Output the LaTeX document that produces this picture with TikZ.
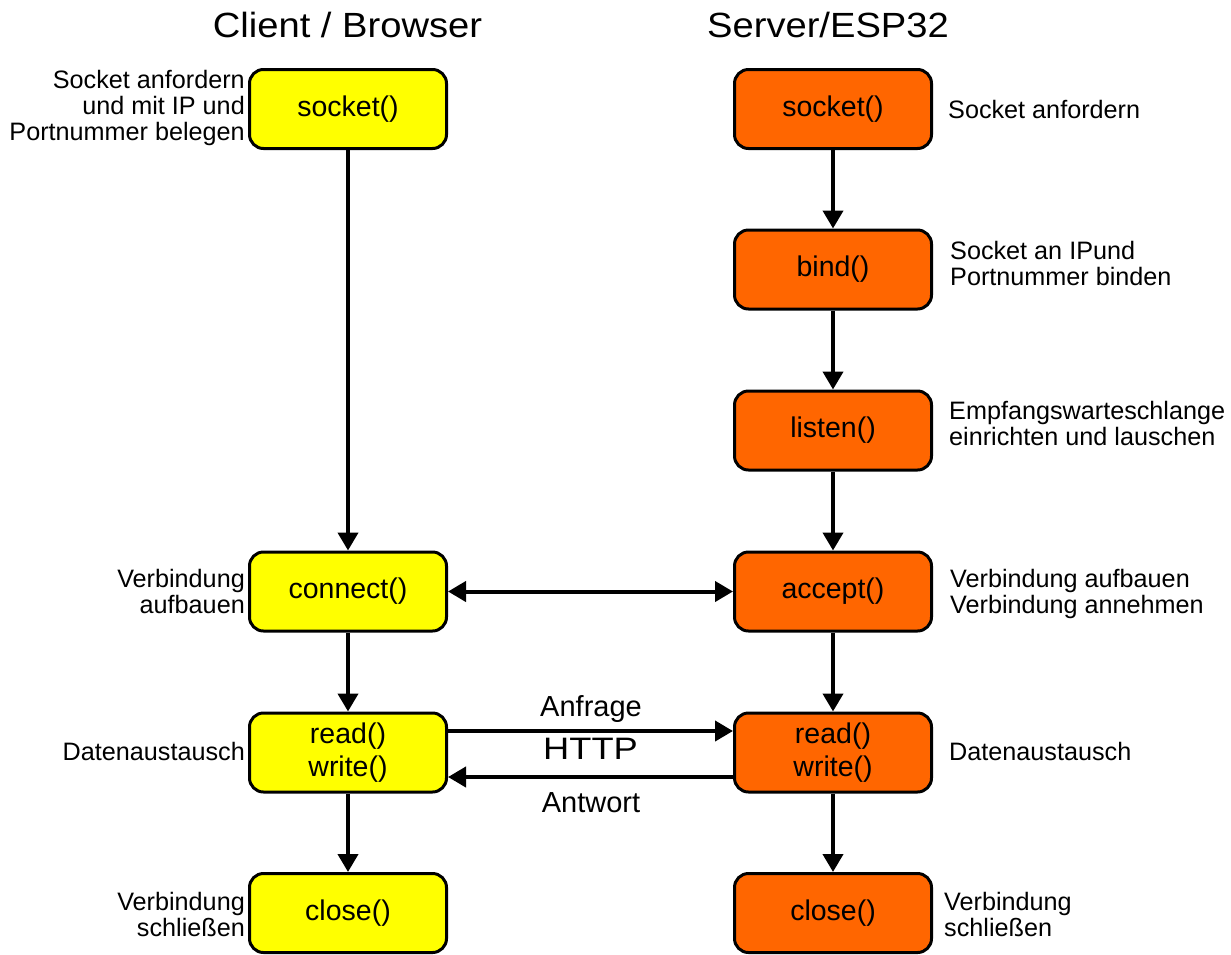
\documentclass[tikz,border=0pt]{standalone}
\usepackage{fontspec}
\setmainfont{Liberation Sans}
\usetikzlibrary{arrows.meta}
\definecolor{boxyellow}{RGB}{255,255,0}
\definecolor{boxorange}{RGB}{255,102,0}
\begin{document}
\begin{tikzpicture}[x=1pt,y=-1pt,
  fn/.style={draw=black, line width=3pt, rounded corners=14pt, minimum width=197pt, minimum height=79pt, inner sep=0pt, align=center, font=\fontsize{28.5}{33}\selectfont},
  cl/.style={fn, fill=boxyellow},
  sv/.style={fn, fill=boxorange},
  note/.style={inner sep=0pt, font=\fontsize{25.2}{26}\selectfont},
  lnote/.style={note, align=right, anchor=base east},
  rnote/.style={note, align=left, anchor=base west},
  flow/.style={line width=4pt, -{Triangle[length=18pt,width=20pt]}},
  both/.style={line width=4pt, {Triangle[length=18pt,width=20pt]}-{Triangle[length=18pt,width=20pt]}},
  msg/.style={inner sep=0pt, anchor=base, font=\fontsize{29}{33}\selectfont},
  title/.style={inner sep=0pt, anchor=base, font=\fontsize{35}{40}\selectfont}]
\useasboundingbox (0,0) rectangle (1231,954);

% titles
\node[title] (tclient) at (347.5,37) {\scalebox{1.09}[1]{Client / Browser}};
\node[title] (tserver) at (828,37) {\scalebox{1.09}[1]{Server/ESP32}};

% client boxes
\node[cl] (lsock) at (348,109) {socket()};
\node[cl] (lconn) at (348,591.5) {connect()};
\node[cl] (lrw) at (348,752.5) {read()\\write()};
\node[cl] (lclose) at (348,913) {close()};

% server boxes
\node[sv] (rsock) at (833,109) {socket()};
\node[sv] (rbind) at (833,269.5) {bind()};
\node[sv] (rlisten) at (833,430.5) {listen()};
\node[sv] (racc) at (833,591.5) {accept()};
\node[sv] (rrw) at (833,752.5) {read()\\write()};
\node[sv] (rclose) at (833,913) {close()};

% vertical connectors
\draw[flow] (lsock) -- (lconn);
\draw[flow] (lconn) -- (lrw);
\draw[flow] (lrw) -- (lclose);
\draw[flow] (rsock) -- (rbind);
\draw[flow] (rbind) -- (rlisten);
\draw[flow] (rlisten) -- (racc);
\draw[flow] (racc) -- (rrw);
\draw[flow] (rrw) -- (rclose);

% horizontal connectors
\draw[both] (lconn) -- (racc);
\draw[flow] ([yshift=21.5pt]lrw.east) -- ([yshift=21.5pt]rrw.west);
\draw[flow] ([yshift=-24.5pt]rrw.west) -- ([yshift=-24.5pt]lrw.east);

\node[msg] (anfrage) at (591,716) {Anfrage};
\node[msg, font=\fontsize{31}{35}\selectfont] (http) at (590.5,759) {\scalebox{1.17}[1]{HTTP}};
\node[msg] (antwort) at (591,812) {Antwort};

% notes left (anchor = baseline of last line)
\node[lnote] (nlsock) at (245,140) {Socket anfordern\\und mit IP und\\Portnummer belegen};
\node[lnote] (nlconn) at (245,613) {Verbindung\\aufbauen};
\node[lnote] (nlrw) at (245,760) {Datenaustausch};
\node[lnote] (nlclose) at (245,936) {Verbindung\\schließen};

% notes right
\node[rnote] (nrsock) at (948,118) {Socket anfordern};
\node[rnote] (nrbind) at (950,285) {Socket an IPund\\Portnummer binden};
\node[rnote] (nrlisten) at (949,445) {Empfangswarteschlange\\einrichten und lauschen};
\node[rnote] (nracc) at (950,613) {Verbindung aufbauen\\Verbindung annehmen};
\node[rnote] (nrrw) at (949,760) {Datenaustausch};
\node[rnote] (nrclose) at (944,936) {Verbindung\\schließen};
\end{tikzpicture}
\end{document}
